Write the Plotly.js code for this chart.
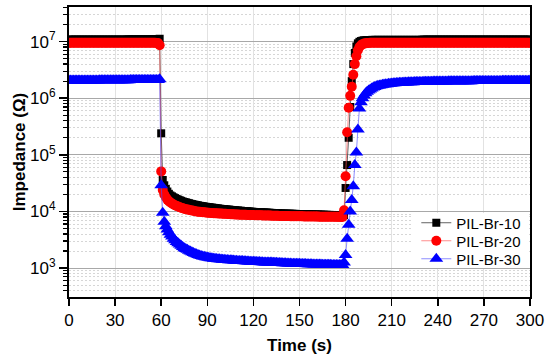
<!DOCTYPE html>
<html>
<head>
<meta charset="utf-8">
<script src="https://cdn.plot.ly/plotly-3.0.1.min.js"></script>
<style>html,body{margin:0;padding:0;background:#fff;}#chart{width:550px;height:362px;}</style>
</head>
<body>
<div id="chart"></div>
<script>
// Time (s), one reading per second
var time = [
  0,1,2,3,4,5,6,7,8,9, 10,11,12,13,14,15,16,17,18,19, 20,21,22,23,24,25,26,27,28,29,
  30,31,32,33,34,35,36,37,38,39, 40,41,42,43,44,45,46,47,48,49, 50,51,52,53,54,55,56,57,58,59,
  60,61,62,63,64,65,66,67,68,69, 70,71,72,73,74,75,76,77,78,79, 80,81,82,83,84,85,86,87,88,89,
  90,91,92,93,94,95,96,97,98,99, 100,101,102,103,104,105,106,107,108,109, 110,111,112,113,114,115,116,117,118,119,
  120,121,122,123,124,125,126,127,128,129, 130,131,132,133,134,135,136,137,138,139, 140,141,142,143,144,145,146,147,148,149,
  150,151,152,153,154,155,156,157,158,159, 160,161,162,163,164,165,166,167,168,169, 170,171,172,173,174,175,176,177,178,179,
  180,181,182,183,184,185,186,187,188,189, 190,191,192,193,194,195,196,197,198,199, 200,201,202,203,204,205,206,207,208,209,
  210,211,212,213,214,215,216,217,218,219, 220,221,222,223,224,225,226,227,228,229, 230,231,232,233,234,235,236,237,238,239,
  240,241,242,243,244,245,246,247,248,249, 250,251,252,253,254,255,256,257,258,259, 260,261,262,263,264,265,266,267,268,269,
  270,271,272,273,274,275,276,277,278,279, 280,281,282,283,284,285,286,287,288,289, 290,291,292,293,294,295,296,297,298,299,
  300];

var seriesNames = ['PIL-Br-10','PIL-Br-20','PIL-Br-30'];

// Impedance (Ohm)
var br10 = [
  1.08e7,1.08e7,1.08e7,1.08e7,1.08e7,1.08e7,1.08e7,1.08e7,1.08e7,1.08e7,
  1.08e7,1.08e7,1.08e7,1.08e7,1.08e7,1.08e7,1.08e7,1.08e7,1.08e7,1.08e7,
  1.08e7,1.08e7,1.08e7,1.08e7,1.08e7,1.08e7,1.08e7,1.08e7,1.08e7,1.08e7,
  1.08e7,1.08e7,1.08e7,1.08e7,1.08e7,1.08e7,1.08e7,1.08e7,1.09e7,1.09e7,
  1.09e7,1.09e7,1.09e7,1.09e7,1.09e7,1.09e7,1.09e7,1.09e7,1.09e7,1.09e7,
  1.09e7,1.09e7,1.09e7,1.09e7,1.1e7,1.1e7,1.1e7,1.1e7,1.1e7,1.12e7,
  2.4e5,3.6e4,2.9e4,2.5e4,2.25e4,2.05e4,1.92e4,1.85e4,1.78e4,1.72e4,
  1.67e4,1.62e4,1.58e4,1.54e4,1.5e4,1.47e4,1.45e4,1.42e4,1.4e4,1.37e4,
  1.35e4,1.33e4,1.31e4,1.3e4,1.28e4,1.26e4,1.25e4,1.24e4,1.22e4,1.21e4,
  1.2e4,1.19e4,1.18e4,1.17e4,1.16e4,1.15e4,1.14e4,1.13e4,1.12e4,1.11e4,
  1.1e4,1.1e4,1.09e4,1.08e4,1.08e4,1.07e4,1.06e4,1.06e4,1.05e4,1.04e4,
  1.04e4,1.03e4,1.03e4,1.02e4,1.02e4,1.01e4,1.01e4,1.0e4,9.95e3,9.9e3,
  9.85e3,9.8e3,9.77e3,9.73e3,9.7e3,9.67e3,9.63e3,9.6e3,9.57e3,9.53e3,
  9.5e3,9.47e3,9.43e3,9.4e3,9.37e3,9.33e3,9.3e3,9.27e3,9.23e3,9.2e3,
  9.18e3,9.17e3,9.15e3,9.13e3,9.12e3,9.1e3,9.08e3,9.07e3,9.05e3,9.03e3,
  9.02e3,9.0e3,8.98e3,8.97e3,8.95e3,8.93e3,8.92e3,8.9e3,8.88e3,8.87e3,
  8.85e3,8.83e3,8.82e3,8.8e3,8.78e3,8.77e3,8.75e3,8.73e3,8.72e3,8.7e3,
  8.69e3,8.68e3,8.67e3,8.66e3,8.65e3,8.64e3,8.63e3,8.62e3,8.61e3,8.6e3,
  2.6e4,6.6e4,2e5,7e5,2e6,4e6,6.3e6,8.2e6,9.3e6,9.9e6,
  1.02e7,1.04e7,1.05e7,1.05e7,1.06e7,1.06e7,1.06e7,1.07e7,1.07e7,1.07e7,
  1.07e7,1.07e7,1.07e7,1.07e7,1.07e7,1.07e7,1.07e7,1.07e7,1.07e7,1.07e7,
  1.07e7,1.07e7,1.07e7,1.07e7,1.07e7,1.07e7,1.07e7,1.07e7,1.07e7,1.07e7,
  1.07e7,1.07e7,1.07e7,1.07e7,1.07e7,1.07e7,1.07e7,1.07e7,1.07e7,1.07e7,
  1.08e7,1.08e7,1.08e7,1.08e7,1.08e7,1.08e7,1.08e7,1.08e7,1.08e7,1.08e7,
  1.08e7,1.08e7,1.08e7,1.08e7,1.08e7,1.08e7,1.08e7,1.08e7,1.08e7,1.08e7,
  1.08e7,1.08e7,1.08e7,1.08e7,1.08e7,1.08e7,1.08e7,1.08e7,1.08e7,1.08e7,
  1.08e7,1.08e7,1.08e7,1.08e7,1.08e7,1.08e7,1.08e7,1.08e7,1.08e7,1.08e7,
  1.08e7,1.08e7,1.08e7,1.08e7,1.08e7,1.08e7,1.08e7,1.08e7,1.08e7,1.08e7,
  1.08e7,1.08e7,1.08e7,1.08e7,1.08e7,1.08e7,1.08e7,1.08e7,1.08e7,1.08e7,
  1.08e7,1.08e7,1.08e7,1.08e7,1.08e7,1.08e7,1.08e7,1.08e7,1.08e7,1.08e7,
  1.08e7];

var br20 = [
  9.5e6,9.5e6,9.5e6,9.5e6,9.5e6,9.5e6,9.5e6,9.5e6,9.5e6,9.5e6,
  9.5e6,9.5e6,9.5e6,9.5e6,9.5e6,9.5e6,9.5e6,9.5e6,9.5e6,9.5e6,
  9.5e6,9.5e6,9.5e6,9.5e6,9.5e6,9.5e6,9.5e6,9.5e6,9.5e6,9.5e6,
  9.5e6,9.5e6,9.5e6,9.5e6,9.5e6,9.5e6,9.5e6,9.5e6,9.5e6,9.5e6,
  9.5e6,9.5e6,9.5e6,9.5e6,9.5e6,9.5e6,9.5e6,9.5e6,9.5e6,9.5e6,
  9.5e6,9.5e6,9.5e6,9.5e6,9.5e6,9.5e6,9.5e6,9.4e6,9.4e6,8.6e6,
  5.1e4,2.4e4,2.0e4,1.78e4,1.62e4,1.52e4,1.44e4,1.38e4,1.33e4,1.29e4,
  1.25e4,1.22e4,1.19e4,1.16e4,1.14e4,1.12e4,1.1e4,1.08e4,1.07e4,1.05e4,
  1.04e4,1.03e4,1.01e4,1.0e4,9.9e3,9.85e3,9.8e3,9.73e3,9.67e3,9.6e3,
  9.53e3,9.47e3,9.4e3,9.37e3,9.33e3,9.3e3,9.27e3,9.23e3,9.2e3,9.17e3,
  9.13e3,9.1e3,9.07e3,9.03e3,9.0e3,8.97e3,8.93e3,8.9e3,8.87e3,8.83e3,
  8.8e3,8.78e3,8.77e3,8.75e3,8.73e3,8.72e3,8.7e3,8.68e3,8.67e3,8.65e3,
  8.63e3,8.62e3,8.6e3,8.58e3,8.57e3,8.55e3,8.53e3,8.52e3,8.5e3,8.48e3,
  8.47e3,8.45e3,8.43e3,8.42e3,8.4e3,8.38e3,8.37e3,8.35e3,8.33e3,8.32e3,
  8.3e3,8.29e3,8.29e3,8.28e3,8.27e3,8.26e3,8.25e3,8.24e3,8.23e3,8.22e3,
  8.21e3,8.21e3,8.2e3,8.19e3,8.19e3,8.18e3,8.17e3,8.16e3,8.15e3,8.14e3,
  8.13e3,8.12e3,8.12e3,8.11e3,8.1e3,8.1e3,8.09e3,8.08e3,8.08e3,8.07e3,
  8.06e3,8.06e3,8.05e3,8.05e3,8.04e3,8.04e3,8.03e3,8.02e3,8.01e3,1.05e4,
  4.2e4,2.5e5,6.8e5,1.1e6,1.6e6,2.6e6,4e6,5.5e6,7e6,8e6,
  8.6e6,9e6,9.2e6,9.3e6,9.4e6,9.4e6,9.5e6,9.5e6,9.5e6,9.5e6,
  9.5e6,9.5e6,9.5e6,9.5e6,9.5e6,9.5e6,9.5e6,9.5e6,9.5e6,9.5e6,
  9.5e6,9.5e6,9.5e6,9.5e6,9.5e6,9.5e6,9.5e6,9.5e6,9.5e6,9.5e6,
  9.5e6,9.5e6,9.5e6,9.5e6,9.5e6,9.5e6,9.5e6,9.5e6,9.5e6,9.5e6,
  9.5e6,9.5e6,9.5e6,9.5e6,9.5e6,9.5e6,9.5e6,9.5e6,9.5e6,9.5e6,
  9.5e6,9.5e6,9.5e6,9.5e6,9.5e6,9.5e6,9.5e6,9.5e6,9.5e6,9.5e6,
  9.5e6,9.5e6,9.5e6,9.5e6,9.5e6,9.5e6,9.5e6,9.5e6,9.5e6,9.5e6,
  9.5e6,9.5e6,9.5e6,9.5e6,9.5e6,9.5e6,9.5e6,9.5e6,9.5e6,9.5e6,
  9.5e6,9.5e6,9.5e6,9.5e6,9.5e6,9.5e6,9.5e6,9.5e6,9.5e6,9.5e6,
  9.5e6,9.5e6,9.5e6,9.5e6,9.5e6,9.5e6,9.5e6,9.5e6,9.5e6,9.5e6,
  9.5e6,9.5e6,9.5e6,9.5e6,9.5e6,9.5e6,9.5e6,9.5e6,9.5e6,9.5e6,
  9.5e6];

var br30 = [
  2.05e6,2.05e6,2.05e6,2.05e6,2.05e6,2.05e6,2.05e6,2.05e6,2.05e6,2.05e6,
  2.06e6,2.06e6,2.06e6,2.06e6,2.06e6,2.06e6,2.06e6,2.06e6,2.06e6,2.06e6,
  2.07e6,2.07e6,2.07e6,2.07e6,2.07e6,2.07e6,2.07e6,2.07e6,2.07e6,2.07e6,
  2.08e6,2.08e6,2.08e6,2.08e6,2.08e6,2.08e6,2.08e6,2.08e6,2.08e6,2.08e6,
  2.09e6,2.09e6,2.09e6,2.09e6,2.09e6,2.09e6,2.09e6,2.09e6,2.09e6,2.09e6,
  2.1e6,2.1e6,2.1e6,2.1e6,2.1e6,2.1e6,2.1e6,2.1e6,2.1e6,2.15e6,
  2.9e4,9.5e3,6.6e3,5.5e3,4.8e3,4.3e3,3.9e3,3.6e3,3.3e3,3.1e3,
  2.9e3,2.75e3,2.6e3,2.47e3,2.35e3,2.25e3,2.17e3,2.1e3,2.03e3,1.96e3,
  1.9e3,1.85e3,1.8e3,1.75e3,1.71e3,1.67e3,1.64e3,1.61e3,1.58e3,1.56e3,
  1.54e3,1.52e3,1.5e3,1.49e3,1.47e3,1.46e3,1.45e3,1.44e3,1.43e3,1.42e3,
  1.41e3,1.4e3,1.39e3,1.39e3,1.38e3,1.37e3,1.37e3,1.36e3,1.35e3,1.35e3,
  1.34e3,1.34e3,1.33e3,1.33e3,1.32e3,1.32e3,1.31e3,1.31e3,1.3e3,1.3e3,
  1.29e3,1.29e3,1.28e3,1.28e3,1.28e3,1.27e3,1.27e3,1.26e3,1.26e3,1.26e3,
  1.25e3,1.25e3,1.25e3,1.24e3,1.24e3,1.24e3,1.23e3,1.23e3,1.23e3,1.22e3,
  1.22e3,1.22e3,1.21e3,1.21e3,1.21e3,1.2e3,1.2e3,1.2e3,1.19e3,1.19e3,
  1.19e3,1.18e3,1.18e3,1.18e3,1.18e3,1.17e3,1.17e3,1.17e3,1.17e3,1.16e3,
  1.16e3,1.16e3,1.16e3,1.155e3,1.155e3,1.15e3,1.15e3,1.15e3,1.145e3,1.145e3,
  1.145e3,1.14e3,1.14e3,1.14e3,1.135e3,1.135e3,1.13e3,1.13e3,1.13e3,1.25e3,
  1.7e3,3.3e3,5.8e3,1e4,1.6e4,2.8e4,6.6e4,1.1e5,2.8e5,6.6e5,
  8.5e5,1e6,1.12e6,1.22e6,1.3e6,1.37e6,1.43e6,1.49e6,1.54e6,1.58e6,
  1.62e6,1.65e6,1.68e6,1.7e6,1.72e6,1.74e6,1.76e6,1.77e6,1.79e6,1.8e6,
  1.81e6,1.83e6,1.84e6,1.85e6,1.86e6,1.87e6,1.87e6,1.88e6,1.89e6,1.89e6,
  1.9e6,1.91e6,1.91e6,1.92e6,1.92e6,1.93e6,1.93e6,1.93e6,1.94e6,1.94e6,
  1.94e6,1.95e6,1.95e6,1.95e6,1.96e6,1.96e6,1.96e6,1.97e6,1.97e6,1.97e6,
  1.97e6,1.97e6,1.98e6,1.98e6,1.98e6,1.98e6,1.98e6,1.99e6,1.99e6,1.99e6,
  1.99e6,1.99e6,1.99e6,2.0e6,2.0e6,2.0e6,2.0e6,2.0e6,2.0e6,2.0e6,
  2.0e6,2.0e6,2.0e6,2.01e6,2.01e6,2.01e6,2.01e6,2.01e6,2.01e6,2.01e6,
  2.01e6,2.01e6,2.02e6,2.02e6,2.02e6,2.02e6,2.02e6,2.02e6,2.02e6,2.02e6,
  2.02e6,2.02e6,2.03e6,2.03e6,2.03e6,2.03e6,2.03e6,2.03e6,2.03e6,2.03e6,
  2.03e6,2.03e6,2.04e6,2.04e6,2.04e6,2.04e6,2.04e6,2.04e6,2.04e6,2.04e6,
  2.05e6];

var xTickVals = [0,30,60,90,120,150,180,210,240,270,300];
var xTickText = ['0','30','60','90','120','150','180','210','240','270','300'];
var yTickVals = [1e3,1e4,1e5,1e6,1e7];
var yTickText = ['10<sup>3</sup>','10<sup>4</sup>','10<sup>5</sup>','10<sup>6</sup>','10<sup>7</sup>'];

var FONT = 'Liberation Sans, Arial, sans-serif';

var traces = [
  {x: time, y: br10, name: seriesNames[0], type: 'scatter', mode: 'lines+markers', legend: 'legend',
   line: {color: 'rgba(60,60,60,0.8)', width: 1},
   marker: {symbol: 'square', size: 8, color: '#000000'}},
  {x: time, y: br20, name: seriesNames[1], type: 'scatter', mode: 'lines+markers', legend: 'legend2',
   line: {color: 'rgba(255,80,80,0.65)', width: 1},
   marker: {symbol: 'circle', size: 10, color: '#ff0000'}},
  {x: time, y: br30, name: seriesNames[2], type: 'scatter', mode: 'lines+markers', legend: 'legend3',
   line: {color: 'rgba(80,80,255,0.65)', width: 1},
   marker: {symbol: 'triangle-up', size: 12, color: '#0000ff'}}
];

function legendAt(yc) {
  return {x: 0.992, xanchor: 'right', y: yc, yanchor: 'middle', bgcolor: 'rgba(255,255,255,0)',
    font: {family: FONT, size: 15, color: '#000'}, tracegroupgap: 0};
}

var layout = {
  width: 550, height: 362,
  margin: {l: 69, r: 20, t: 7, b: 65},
  paper_bgcolor: '#ffffff', plot_bgcolor: '#ffffff',
  font: {family: FONT, size: 17, color: '#000'},
  showlegend: true,
  legend: legendAt(0.2552),
  legend2: legendAt(0.1931),
  legend3: legendAt(0.1310),
  shapes: [{type: 'rect', xref: 'paper', yref: 'paper', x0: 0.745, x1: 0.996, y0: 0.1, y1: 0.29,
    fillcolor: '#ffffff', line: {width: 0}, layer: 'above'}],
  xaxis: {
    range: [0, 300], tickmode: 'array', tickvals: xTickVals, ticktext: xTickText,
    ticks: 'outside', ticklen: 7, tickwidth: 1.5, tickcolor: '#000',
    showline: true, linewidth: 2, linecolor: '#000', mirror: true,
    showgrid: true, gridcolor: '#e2e2e2', gridwidth: 1, zeroline: false,
    tickfont: {family: FONT, size: 17, color: '#000'},
    title: {text: 'Time (s)', font: {family: FONT, size: 17, color: '#000', weight: 'bold'}, standoff: 10}
  },
  yaxis: {
    type: 'log', range: [2.49, 7.61], tickmode: 'array', tickvals: yTickVals, ticktext: yTickText,
    ticks: 'outside', ticklen: 8, tickwidth: 1.5, tickcolor: '#000',
    showline: true, linewidth: 2, linecolor: '#000', mirror: true,
    showgrid: true, gridcolor: '#a8a8a8', gridwidth: 1, zeroline: false,
    tickfont: {family: FONT, size: 17, color: '#000'},
    minor: {dtick: 'D1', ticks: 'outside', ticklen: 4, tickwidth: 1.2, tickcolor: '#000',
      showgrid: true, gridcolor: '#d6d6d6', griddash: '2px,2px', gridwidth: 1},
    title: {text: 'Impedance (Ω)', font: {family: FONT, size: 17, color: '#000', weight: 'bold'}, standoff: 0}
  }
};

Plotly.newPlot('chart', traces, layout, {displayModeBar: false, staticPlot: true});
</script>
</body>
</html>
